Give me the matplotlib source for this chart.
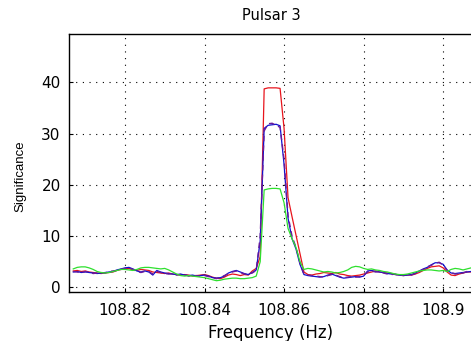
import numpy as np
import matplotlib
matplotlib.use('Agg')
import matplotlib.pyplot as plt

# frequency bins (Hz)
freq = np.round(np.arange(108.807, 108.9105, 0.001), 3)

red = [3.2, 3.3, 3.1, 3.2, 3.0, 2.9, 2.8, 2.7, 2.8, 2.9,
       3.0, 3.3, 3.5, 3.6, 3.7, 3.4, 3.3, 3.5, 3.4, 3.3,
       3.0, 2.9, 2.8, 2.7, 2.8, 2.6, 2.5, 2.4, 2.5, 2.4,
       2.2, 2.3, 2.4, 2.5, 2.3, 2.0, 1.8, 1.7, 2.0, 2.4,
       2.6, 2.5, 2.3, 2.5, 2.4, 3.2, 3.7, 6.0, 38.7, 38.9,
       38.9, 38.9, 38.8, 31.0, 17.5, 13.8, 10.2, 6.6, 3.0, 2.5,
       2.4, 2.6, 2.7, 2.9, 2.8, 2.7, 2.9, 2.6, 2.5, 2.3,
       2.2, 2.3, 2.4, 2.6, 2.8, 3.0, 3.2, 3.0, 2.9, 2.8,
       2.7, 2.5, 2.4, 2.3, 2.4, 2.4, 2.6, 2.9, 3.3, 3.7,
       4.0, 4.1, 4.2, 3.8, 3.0, 2.4, 2.3, 2.6, 2.8, 3.0,
       3.0, 3.0, 2.9, 3.0]

blue = [3.0, 3.1, 2.9, 3.0, 2.9, 2.8, 2.7, 2.8, 2.9, 3.0,
        3.1, 3.4, 3.6, 3.8, 3.9, 3.6, 3.2, 3.0, 3.2, 3.0,
        2.4, 3.3, 3.0, 2.8, 2.7, 2.6, 2.5, 2.6, 2.4, 2.3,
        2.4, 2.2, 2.3, 2.4, 2.2, 1.9, 1.8, 1.9, 2.2, 2.8,
        3.1, 3.3, 3.0, 2.7, 2.5, 2.9, 3.4, 9.0, 31.0, 31.6,
        31.7, 31.8, 31.5, 24.0, 13.5, 9.5, 7.5, 4.5, 2.5, 2.3,
        2.2, 2.1, 2.0, 2.1, 2.4, 2.6, 2.3, 2.0, 1.8, 1.9,
        2.0, 2.1, 2.0, 2.2, 3.2, 3.3, 3.1, 3.0, 2.9, 2.7,
        2.6, 2.5, 2.4, 2.3, 2.4, 2.5, 2.8, 3.2, 3.6, 3.9,
        4.4, 4.8, 4.8, 4.5, 3.4, 2.8, 2.7, 2.8, 2.9, 3.0,
        3.1, 2.9, 2.8, 2.9]

purple = [3.1, 3.0, 2.8, 3.1, 3.0, 2.7, 2.8, 2.9, 2.8, 3.1,
          3.2, 3.3, 3.5, 3.7, 3.8, 3.5, 3.1, 2.9, 3.1, 3.1,
          2.6, 3.1, 2.9, 2.7, 2.6, 2.7, 2.4, 2.5, 2.5, 2.2,
          2.3, 2.3, 2.2, 2.3, 2.1, 1.9, 1.7, 2.0, 2.3, 2.7,
          3.0, 3.2, 2.9, 2.6, 2.6, 2.8, 3.3, 10.0, 30.5, 31.9,
          32.0, 31.6, 31.2, 25.0, 14.0, 10.0, 7.8, 4.8, 2.6, 2.4,
          2.3, 2.2, 2.1, 2.0, 2.3, 2.5, 2.4, 2.1, 1.9, 2.0,
          2.1, 2.0, 2.1, 2.3, 3.0, 3.2, 3.0, 3.1, 2.8, 2.6,
          2.5, 2.6, 2.3, 2.4, 2.5, 2.4, 2.7, 3.1, 3.5, 4.0,
          4.3, 4.7, 4.9, 4.3, 3.3, 2.9, 2.6, 2.7, 2.8, 3.1,
          3.0, 2.8, 2.9, 2.8]

green = [3.6, 3.9, 4.0, 4.0, 3.8, 3.5, 3.1, 2.9, 2.8, 2.9,
         3.1, 3.3, 3.5, 3.5, 3.4, 3.3, 3.5, 3.8, 3.9, 3.9,
         3.8, 3.7, 3.6, 3.7, 3.4, 3.0, 2.6, 2.3, 2.2, 2.3,
         2.2, 2.1, 2.0, 1.9, 1.7, 1.5, 1.3, 1.4, 1.6, 1.7,
         1.8, 1.8, 1.7, 1.7, 1.8, 1.9, 2.2, 5.0, 19.0, 19.2,
         19.3, 19.3, 19.2, 16.5, 11.5, 9.5, 7.8, 5.0, 3.5, 3.7,
         3.6, 3.4, 3.2, 3.0, 3.1, 3.0, 2.8, 2.9, 3.1, 3.4,
         3.9, 4.1, 4.0, 3.7, 3.5, 3.6, 3.4, 3.3, 3.1, 3.0,
         2.8, 2.6, 2.5, 2.5, 2.6, 2.8, 3.0, 3.2, 3.3, 3.4,
         3.4, 3.3, 3.2, 3.3, 3.1, 3.5, 3.7, 3.6, 3.4, 3.6,
         3.8, 3.6, 3.5, 3.6]

xticks = [108.82, 108.84, 108.86, 108.88, 108.9]
xticklabels = ['108.82', '108.84', '108.86', '108.88', '108.9']
yticks = [0, 10, 20, 30, 40]

fig = plt.figure(figsize=(4.71, 3.41), dpi=100)
ax = fig.add_axes([0.1465, 0.1437, 0.8577, 0.7566])

ax.plot(freq, red, color='#e8141c', lw=0.9)
ax.plot(freq, blue, color='#1010d0', lw=0.9)
ax.plot(freq, purple, color='#6a1a9a', lw=1.0, dashes=(4, 3))
ax.plot(freq, green, color='#2ee02e', lw=0.9)

ax.set_xlim(108.80593, 108.9075)
ax.set_ylim(-0.9, 49.4)
ax.set_xticks(xticks)
ax.set_xticklabels(xticklabels)
ax.set_yticks(yticks)
ax.grid(True, color='black', linestyle=(0, (1, 5)), lw=0.8)
ax.tick_params(direction='in', length=3, labelsize=11, pad=6)
ax.tick_params(axis='x', pad=8)
for s in ax.spines.values():
    s.set_linewidth(1.0)

ax.set_title('Pulsar 3', fontsize=10.5, pad=10)
ax.set_xlabel('Frequency (Hz)', fontsize=12, labelpad=4)
ax.set_ylabel('Significance', fontsize=9.5, family='Liberation Sans')
ax.yaxis.set_label_coords(-0.105, 0.45)

plt.savefig('out.png', dpi=100)
